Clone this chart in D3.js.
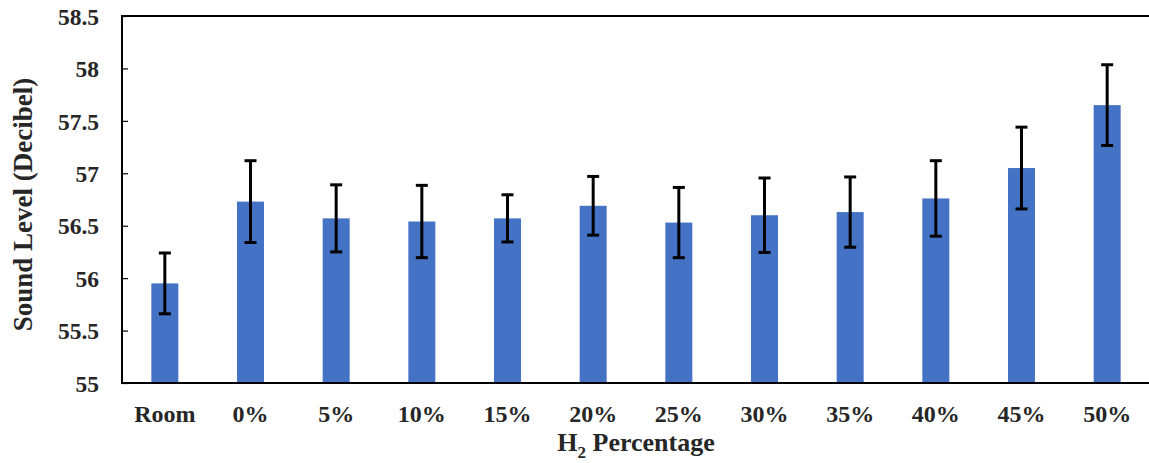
<!DOCTYPE html>
<html>
<head>
<meta charset="utf-8">
<script src="https://cdn.jsdelivr.net/npm/d3@7"></script>
<style>
  html, body { margin: 0; padding: 0; background: #fff; }
  svg { display: block; }
  text { font-family: "Liberation Serif", "Times New Roman", serif; font-weight: bold; fill: #262626; }
</style>
</head>
<body>
<svg id="chart" width="1149" height="463"></svg>
<script>
const categories = ["Room", "0%", "5%", "10%", "15%", "20%", "25%", "30%", "35%", "40%", "45%", "50%"];
const meanValues = [55.95, 56.73, 56.57, 56.54, 56.57, 56.69, 56.53, 56.60, 56.63, 56.76, 57.05, 57.65];
const errorValues = [0.29, 0.39, 0.32, 0.345, 0.225, 0.28, 0.335, 0.355, 0.335, 0.36, 0.39, 0.385];
const yTicks = [55, 55.5, 56, 56.5, 57, 57.5, 58, 58.5];

const svg = d3.select("#chart");
const pLeft = 122, pRight = 1150, pTop = 16, pBottom = 383;

const x = d3.scaleBand().domain(categories).range([pLeft, pRight])
  .paddingInner(0.685).paddingOuter(0.3425);
const y = d3.scaleLinear().domain([55, 58.5]).range([pBottom, pTop]);

const data = categories.map((c, i) => ({ c, v: meanValues[i], e: errorValues[i] }));

// bars
svg.append("g").selectAll("rect").data(data).join("rect")
  .attr("x", d => x(d.c))
  .attr("y", d => y(d.v))
  .attr("width", x.bandwidth())
  .attr("height", d => y(55) - y(d.v))
  .attr("fill", "#4472C4");

// error bars
const eb = svg.append("g").attr("stroke", "#000").attr("stroke-width", 3);
data.forEach(d => {
  const cx = x(d.c) + x.bandwidth() / 2;
  eb.append("line").attr("x1", cx).attr("x2", cx).attr("y1", y(d.v + d.e)).attr("y2", y(d.v - d.e));
  eb.append("line").attr("x1", cx - 6).attr("x2", cx + 6).attr("y1", y(d.v + d.e)).attr("y2", y(d.v + d.e));
  eb.append("line").attr("x1", cx - 6).attr("x2", cx + 6).attr("y1", y(d.v - d.e)).attr("y2", y(d.v - d.e));
});

// y axis
const yAxis = svg.append("g").attr("transform", `translate(${pLeft},0)`)
  .call(d3.axisRight(y).tickValues(yTicks).tickSize(6).tickFormat(d3.format("")));
yAxis.select(".domain").remove();
yAxis.selectAll(".tick line").attr("stroke", "#000").attr("stroke-width", 1.2);
yAxis.selectAll(".tick text")
  .attr("x", -23).attr("text-anchor", "end").attr("dy", "0.35em")
  .style("font-size", "23.5px").style("font-family", "Liberation Serif, serif").style("font-weight", "bold").attr("fill", "#262626");

// x axis labels
const xAxis = svg.append("g").attr("transform", `translate(0,${pBottom})`)
  .call(d3.axisBottom(x).tickSize(0).tickPadding(0));
xAxis.select(".domain").remove();
xAxis.selectAll(".tick text")
  .attr("y", 39).attr("dy", 0)
  .style("font-size", "24px").style("font-family", "Liberation Serif, serif").style("font-weight", "bold").attr("fill", "#262626");

// frame lines
svg.append("line").attr("x1", pLeft).attr("x2", pLeft).attr("y1", pTop).attr("y2", pBottom + 1)
  .attr("stroke", "#000").attr("stroke-width", 2);
svg.append("line").attr("x1", pLeft - 1).attr("x2", 1149).attr("y1", pBottom).attr("y2", pBottom)
  .attr("stroke", "#000").attr("stroke-width", 2);
svg.append("line").attr("x1", pLeft - 1).attr("x2", 1149).attr("y1", pTop).attr("y2", pTop)
  .attr("stroke", "#000").attr("stroke-width", 2);

// axis titles
const xt = svg.append("text").attr("x", (pLeft + pRight) / 2).attr("y", 451)
  .attr("text-anchor", "middle").style("font-size", "26px");
xt.append("tspan").text("H");
xt.append("tspan").text("2").style("font-size", "17px").attr("dy", 7);
xt.append("tspan").text(" Percentage").attr("dy", -7);

svg.append("text")
  .attr("transform", `translate(32,${(pTop + pBottom) / 2 + 5}) rotate(-90)`)
  .attr("text-anchor", "middle").style("font-size", "27px")
  .text("Sound Level (Decibel)");
</script>
</body>
</html>
